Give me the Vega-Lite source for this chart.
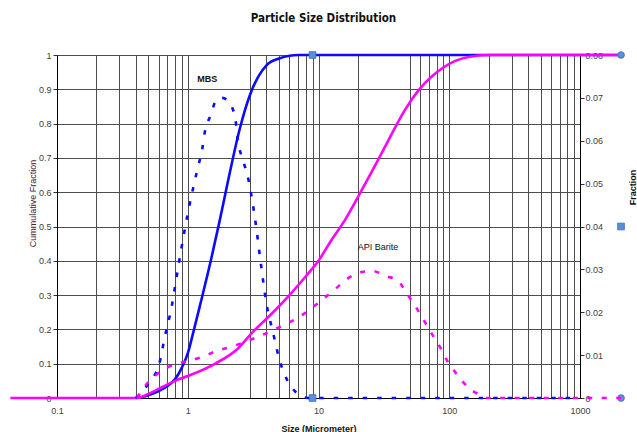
{
  "$schema": "https://vega.github.io/schema/vega-lite/v6.json",
  "width": 523,
  "height": 343,
  "autosize": {"type": "none"},
  "padding": {"left": 57, "top": 55, "right": 57, "bottom": 34},
  "background": "white",
  "title": {
    "text": "Particle Size Distribution",
    "fontSize": 11.5,
    "fontWeight": "bold",
    "font": "Liberation Sans Narrow, DejaVu Sans Condensed, Liberation Sans",
    "color": "#111111",
    "offset": 25,
    "dx": 5,
    "anchor": "middle",
    "frame": "group"
  },
  "datasets": {
    "mbsCum": [
      {"size": 0.4, "value": 0}, {"size": 0.45, "value": 0.003}, {"size": 0.5, "value": 0.008},
      {"size": 0.6, "value": 0.02}, {"size": 0.7, "value": 0.035}, {"size": 0.8, "value": 0.055},
      {"size": 0.9, "value": 0.088}, {"size": 1.0, "value": 0.13}, {"size": 1.1, "value": 0.19},
      {"size": 1.25, "value": 0.275}, {"size": 1.5, "value": 0.4}, {"size": 1.75, "value": 0.515},
      {"size": 2.0, "value": 0.62}, {"size": 2.5, "value": 0.785}, {"size": 3.0, "value": 0.885},
      {"size": 3.5, "value": 0.94}, {"size": 4.0, "value": 0.97}, {"size": 5.0, "value": 0.99},
      {"size": 6.0, "value": 0.998}, {"size": 7.0, "value": 1}, {"size": 2060, "value": 1}
    ],
    "apiCum": [
      {"size": 0.044, "value": 0}, {"size": 0.41, "value": 0}, {"size": 0.5, "value": 0.012},
      {"size": 0.64, "value": 0.032}, {"size": 0.8, "value": 0.05}, {"size": 1.0, "value": 0.064},
      {"size": 1.6, "value": 0.099}, {"size": 2.4, "value": 0.143}, {"size": 3.1, "value": 0.19},
      {"size": 4.5, "value": 0.25}, {"size": 6, "value": 0.3}, {"size": 8, "value": 0.355},
      {"size": 10, "value": 0.4}, {"size": 12.3, "value": 0.455}, {"size": 16, "value": 0.52},
      {"size": 21, "value": 0.6}, {"size": 26, "value": 0.665}, {"size": 32, "value": 0.73},
      {"size": 40, "value": 0.8}, {"size": 45, "value": 0.835}, {"size": 59, "value": 0.9},
      {"size": 75, "value": 0.94}, {"size": 89, "value": 0.962}, {"size": 110, "value": 0.982},
      {"size": 143, "value": 0.995}, {"size": 200, "value": 1}, {"size": 2060, "value": 1}
    ],
    "mbsFrac": [
      {"size": 0.4, "value": 0}, {"size": 0.45, "value": 0.0015}, {"size": 0.5, "value": 0.0033},
      {"size": 0.55, "value": 0.005}, {"size": 0.6, "value": 0.0075}, {"size": 0.67, "value": 0.0145},
      {"size": 0.75, "value": 0.021}, {"size": 0.85, "value": 0.031}, {"size": 1.0, "value": 0.043},
      {"size": 1.1, "value": 0.049}, {"size": 1.2, "value": 0.054}, {"size": 1.29, "value": 0.058},
      {"size": 1.35, "value": 0.062}, {"size": 1.49, "value": 0.0658}, {"size": 1.67, "value": 0.0697},
      {"size": 1.83, "value": 0.07}, {"size": 2.0, "value": 0.0695}, {"size": 2.17, "value": 0.068},
      {"size": 2.33, "value": 0.0644}, {"size": 2.42, "value": 0.06}, {"size": 2.59, "value": 0.0562},
      {"size": 2.85, "value": 0.0522}, {"size": 3.3, "value": 0.041}, {"size": 3.6, "value": 0.032},
      {"size": 4.0, "value": 0.022}, {"size": 4.48, "value": 0.0154}, {"size": 5.06, "value": 0.0086},
      {"size": 5.8, "value": 0.004}, {"size": 6.6, "value": 0.0016}, {"size": 8.3, "value": 0},
      {"size": 1000, "value": 0}
    ],
    "apiFrac": [
      {"size": 0.41, "value": 0}, {"size": 0.45, "value": 0.002}, {"size": 0.5, "value": 0.0037},
      {"size": 0.61, "value": 0.006}, {"size": 0.8, "value": 0.0079}, {"size": 1.0, "value": 0.0086},
      {"size": 1.29, "value": 0.0096}, {"size": 1.67, "value": 0.011}, {"size": 2.17, "value": 0.012},
      {"size": 2.75, "value": 0.0131}, {"size": 3.4, "value": 0.0142}, {"size": 5, "value": 0.0165},
      {"size": 7.2, "value": 0.019}, {"size": 10, "value": 0.0222}, {"size": 13.4, "value": 0.0254},
      {"size": 16.6, "value": 0.0278}, {"size": 21.5, "value": 0.0294}, {"size": 26.1, "value": 0.0296},
      {"size": 32.3, "value": 0.0285}, {"size": 40.6, "value": 0.0273}, {"size": 47.6, "value": 0.0243},
      {"size": 54.8, "value": 0.0215}, {"size": 73.8, "value": 0.0149}, {"size": 84.8, "value": 0.0119},
      {"size": 97.6, "value": 0.0084}, {"size": 114, "value": 0.0056}, {"size": 138, "value": 0.0026},
      {"size": 177, "value": 0.0005}, {"size": 190, "value": 0}, {"size": 2060, "value": 0}
    ],
    "squares": [
      {"size": 9, "value": 1}, {"size": 9, "value": 0}, {"size": 2060, "value": 0.5}
    ],
    "circles": [
      {"size": 2060, "value": 1}, {"size": 2060, "value": 0}
    ],
    "labelMbs": [
      {"size": 1.18, "value": 0.93, "text": "MBS"}
    ],
    "labelApi": [
      {"size": 20, "value": 0.44, "text": "API Barite"}
    ]
  },
  "encoding": {
    "x": {
      "field": "size",
      "type": "quantitative",
      "scale": {"type": "log", "domain": [0.1, 1000], "nice": false},
      "axis": {
        "values": [0.1, 0.2, 0.3, 0.4, 0.5, 0.6, 0.7, 0.8, 0.9, 1, 3, 4, 5, 6, 7, 8, 9, 10, 20, 50, 60, 70, 80, 90, 100, 200, 300, 400, 500, 600, 700, 800, 900, 1000],
        "format": "~g",
        "labelExpr": "abs(log(datum.value)/LN10 - round(log(datum.value)/LN10)) < 0.001 ? datum.label : ''",
        "labelOverlap": false,
        "labelFlush": false,
        "grid": true,
        "gridColor": "#4d4d4d",
        "gridWidth": 1,
        "ticks": false,
        "tickSize": 0,
        "labelPadding": 8,
        "domainColor": "#000000",
        "domainWidth": 1,
        "title": "Size (Micrometer)",
        "titleFontSize": 9,
        "titleFontWeight": "bold",
        "titleColor": "#111111",
        "titleY": 26,
        "titleBaseline": "top"
      }
    }
  },
  "layer": [
    {
      "encoding": {
        "y": {
          "field": "value",
          "type": "quantitative",
          "scale": {"domain": [0, 1], "nice": false},
          "axis": {
            "orient": "left",
            "values": [0, 0.1, 0.2, 0.3, 0.4, 0.5, 0.6, 0.7, 0.8, 0.9, 1],
            "format": "~g",
            "grid": true,
            "gridColor": "#4d4d4d",
            "gridWidth": 1,
            "tickSize": 4,
            "tickColor": "#333333",
            "labelPadding": 2,
            "domainColor": "#000000",
            "title": "Cummulative Fraction",
            "titleFontSize": 9,
            "titleFontWeight": "normal",
            "titleColor": "#4a2222",
            "titleX": -25,
            "titleY": 148,
            "titleAngle": 270,
            "titleAlign": "center",
            "titleBaseline": "middle"
          }
        }
      },
      "layer": [
        {
          "data": {"name": "mbsCum"},
          "mark": {"type": "line", "color": "#0a0aff", "strokeWidth": 2.6, "interpolate": "monotone"}
        },
        {
          "data": {"name": "apiCum"},
          "mark": {"type": "line", "color": "#ff00ff", "strokeWidth": 2.6, "interpolate": "monotone"}
        },
        {
          "data": {"name": "squares"},
          "mark": {"type": "point", "shape": "square", "size": 45, "filled": true, "color": "#5b8fd8", "stroke": "#3d6cb5", "strokeWidth": 0.8, "opacity": 1}
        },
        {
          "data": {"name": "circles"},
          "mark": {"type": "point", "shape": "circle", "size": 45, "filled": true, "color": "#5b8fd8", "stroke": "#3d6cb5", "strokeWidth": 0.8, "opacity": 1}
        },
        {
          "data": {"name": "labelMbs"},
          "mark": {"type": "text", "align": "left", "baseline": "middle", "fontSize": 9, "fontWeight": "bold", "color": "#111111"},
          "encoding": {"text": {"field": "text"}}
        },
        {
          "data": {"name": "labelApi"},
          "mark": {"type": "text", "align": "left", "baseline": "middle", "fontSize": 9, "fontWeight": "normal", "color": "#111111"},
          "encoding": {"text": {"field": "text"}}
        }
      ]
    },
    {
      "encoding": {
        "y": {
          "field": "value",
          "type": "quantitative",
          "scale": {"domain": [0, 0.08], "nice": false},
          "axis": {
            "orient": "right",
            "values": [0, 0.01, 0.02, 0.03, 0.04, 0.05, 0.06, 0.07, 0.08],
            "format": "~g",
            "grid": false,
            "tickSize": 4,
            "tickColor": "#333333",
            "labelPadding": 1,
            "domainColor": "#000000",
            "title": "Fraction",
            "titleFontSize": 9,
            "titleFontWeight": "bold",
            "titleColor": "#111111",
            "titleX": 52,
            "titleY": 132,
            "titleAngle": 270,
            "titleAlign": "center",
            "titleBaseline": "middle"
          }
        }
      },
      "layer": [
        {
          "data": {"name": "mbsFrac"},
          "mark": {"type": "line", "color": "#0a0aff", "strokeWidth": 2.6, "strokeDash": [4.5, 10], "interpolate": "monotone"}
        },
        {
          "data": {"name": "apiFrac"},
          "mark": {"type": "line", "color": "#ff00ff", "strokeWidth": 2.6, "strokeDash": [5, 9.5], "interpolate": "monotone"}
        }
      ]
    }
  ],
  "resolve": {"scale": {"y": "independent"}},
  "config": {
    "view": {"stroke": null},
    "font": "Liberation Sans",
    "axis": {"labelFontSize": 9, "labelColor": "#404040"}
  }
}
